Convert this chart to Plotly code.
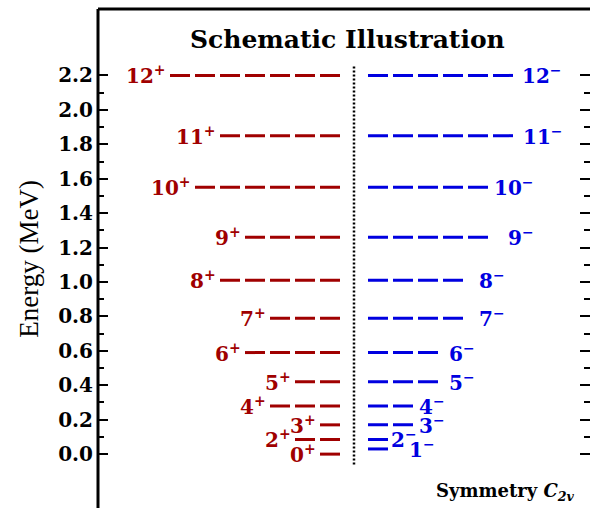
import plotly.graph_objects as go

J_pos = [0, 2, 3, 4, 5, 6, 7, 8, 9, 10, 11, 12]
E_pos = [0.00, 0.085, 0.17, 0.28, 0.42, 0.59, 0.79, 1.01, 1.26, 1.55, 1.85, 2.20]
J_neg = [1, 2, 3, 4, 5, 6, 7, 8, 9, 10, 11, 12]
E_neg = [0.03, 0.085, 0.17, 0.28, 0.42, 0.59, 0.79, 1.01, 1.26, 1.55, 1.85, 2.20]

# Eje y
marcas_y = [0.0, 0.2, 0.4, 0.6, 0.8, 1.0, 1.2, 1.4, 1.6, 1.8, 2.0, 2.2]
etiquetas_y = ['0.0', '0.2', '0.4', '0.6', '0.8', '1.0', '1.2', '1.4', '1.6', '1.8', '2.0', '2.2']
menores_y = [0.1, 0.3, 0.5, 0.7, 0.9, 1.1, 1.3, 1.5, 1.7, 1.9, 2.1]

rojo = '#a00000'
azul = '#0000e0'
fuente = 'DejaVu Serif'

# en x: 1 unidad = un periodo de guion (25 px), 0 = linea punteada central
borde = 0.56
guion = '20px,5px'
# separacion extra (px) de las etiquetas de la derecha
sep_neg = {12: 7, 11: 8, 10: 4, 9: 18, 8: 14, 7: 14, 6: 9, 5: 9, 4: 4, 3: 4, 2: 1, 1: 19}

fig = go.Figure()

for J, E in zip(J_pos, E_pos):
    n = J // 2 + 1 if J % 2 == 0 else J // 2   # numero de guiones
    x1 = -borde
    x0 = x1 - n + 0.2
    fig.add_trace(go.Scatter(x=[x0, x1], y=[E, E], mode='lines',
                             line=dict(color=rojo, width=3, dash=guion),
                             hoverinfo='skip', showlegend=False))
    fig.add_annotation(x=x0 - 0.08, y=E, text=f'{J}<sup>+</sup>',
                       xanchor='right', yanchor='middle', showarrow=False,
                       font=dict(family=fuente, size=20, color=rojo, weight='bold'))

for J, E in zip(J_neg, E_neg):
    n = (J + 1) // 2
    x0 = borde
    x1 = x0 + n - 0.2
    fig.add_trace(go.Scatter(x=[x0, x1], y=[E, E], mode='lines',
                             line=dict(color=azul, width=3, dash=guion),
                             hoverinfo='skip', showlegend=False))
    fig.add_annotation(x=x1 + sep_neg[J] / 25, y=E, text=f'{J}<sup>\u2212</sup>',
                       xanchor='left', yanchor='middle', showarrow=False,
                       font=dict(family=fuente, size=20, color=azul, weight='bold'))

# linea punteada central
fig.add_trace(go.Scatter(x=[0, 0], y=[-0.06, 2.26], mode='lines',
                         line=dict(color='black', width=2.5, dash='2px,2px'),
                         hoverinfo='skip', showlegend=False))

fig.update_layout(
    width=590, height=508,
    margin=dict(l=98, r=0, t=9, b=0, autoexpand=False),
    plot_bgcolor='white', paper_bgcolor='white',
    showlegend=False,
    xaxis=dict(range=[-10.24, 9.44], visible=False),
    yaxis=dict(range=[-0.313, 2.586], tickmode='array', tickvals=marcas_y,
               ticktext=etiquetas_y, ticks='inside', ticklen=10, tickwidth=2,
               tickcolor='black', mirror='ticks', showline=False,
               showgrid=False, zeroline=False, ticklabelstandoff=4,
               tickfont=dict(family=fuente, size=20, color='black', weight='bold'),
               minor=dict(tickmode='array', tickvals=menores_y, ticks='inside',
                          ticklen=6, tickwidth=1.5, tickcolor='black')),
)

# marco: izquierda y arriba
fig.add_shape(type='line', xref='paper', yref='paper', x0=0, x1=0, y0=0, y1=1,
              line=dict(color='black', width=3))
fig.add_shape(type='line', xref='paper', yref='paper', x0=0, x1=1, y0=1, y1=1,
              line=dict(color='black', width=3))

fig.add_annotation(xref='paper', yref='paper', x=0.508, y=0.938,
                   text='<b>Schematic Illustration</b>', showarrow=False,
                   xanchor='center', yanchor='middle',
                   font=dict(family=fuente, size=25, color='black'))
fig.add_annotation(xref='paper', yref='paper', x=-0.142, y=0.5,
                   text='Energy (MeV)', textangle=-90, showarrow=False,
                   xanchor='center', yanchor='middle',
                   font=dict(family='Liberation Serif', size=27, color='black'))
fig.add_annotation(xref='paper', yref='paper', x=0.974, y=0.032,
                   text='<b>Symmetry <i>C</i><sub><i>2v</i></sub></b>', showarrow=False,
                   xanchor='right', yanchor='middle',
                   font=dict(family=fuente, size=18, color='black'))

# sin margen del body para que la figura quede en (0, 0)
fig.write_html("out.html", config={'displayModeBar': False},
               post_script="document.body.style.margin='0';document.body.style.overflow='hidden';")
